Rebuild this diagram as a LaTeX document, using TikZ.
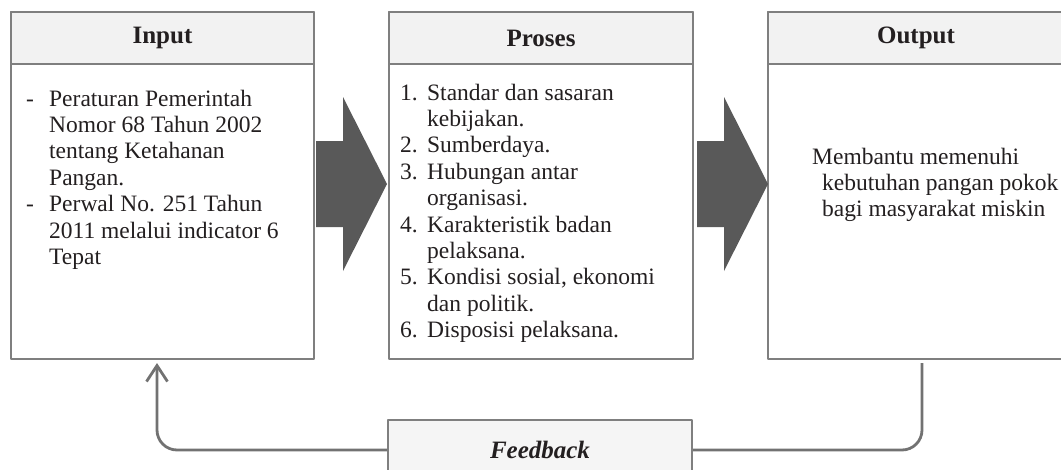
\documentclass[tikz,border=0pt]{standalone}
\usepackage{fontspec}
\setmainfont{Liberation Serif}
\usetikzlibrary{arrows.meta}
\definecolor{garis}{HTML}{7F7F7F}
\definecolor{latar}{HTML}{F2F2F2}
\definecolor{latarumpan}{HTML}{F5F5F5}
\definecolor{gelap}{HTML}{595959}
\definecolor{alur}{HTML}{727272}
\definecolor{tinta}{HTML}{231F20}
\begin{document}
\begin{tikzpicture}[x=1pt, y=-1pt, font=\fontsize{23.5}{26.4}\selectfont, line join=round, >={Straight Barb[length=16pt,width=21pt]}]
	\tikzset{kotak/.style={draw=garis, line width=2pt, anchor=north west, minimum width=#1, minimum height=347, inner sep=0},
		judul/.style={kotak=#1, fill=latar, minimum height=52, text=tinta, font=\fontsize{25}{26}\selectfont\bfseries},
		isi/.style={anchor=base west, inner sep=0, text=tinta},
		panah/.pic={
				\fill[gelap] (0,-43)--(27,-43)--(27,-87)--(71,0)--(27,87)--(27,43)--(0,43)--cycle;
		}}
	\useasboundingbox (0,0) rectangle (1061,469);
	\clip (0,0) rectangle (1061,469);
	\node[kotak=303] (input) at (10,11) {};
	\node[kotak=304] (proses) at (388,11) {};
	\node[kotak=296] (output) at (767,11) {};
	\node[judul=303] (judul-input) at (10,11) {Input};
	\node[judul=304] (judul-proses) at (388,11) {Proses};
	\node[judul=296] (judul-output) at (767,11) {Output};
	\path (316,184) pic{panah} (697,184) pic{panah};
	\node[isi] (isi-input) at (26,106) {\begin{tabular}[t]{@{}p{23pt}@{}l@{}}
			- & Peraturan Pemerintah\\
			& Nomor 68 Tahun 2002\\
			& tentang Ketahanan\\
			& Pangan.\\
			- & Perwal No. 251 Tahun\\
			& 2011 melalui indicator 6\\
			& Tepat
		\end{tabular}};
	\node[isi] (isi-proses) at (400,100) {\begin{tabular}[t]{@{}p{27pt}@{}l@{}}
			1. & Standar dan sasaran\\
			& kebijakan.\\
			2. & Sumberdaya.\\
			3. & Hubungan antar\\
			& organisasi.\\
			4. & Karakteristik badan\\
			& pelaksana.\\
			5. & Kondisi sosial, ekonomi\\
			& dan politik.\\
			6. & Disposisi pelaksana.
		\end{tabular}};
	\node[isi] (isi-output) at (812,164) {\begin{tabular}[t]{@{}l@{}}
			Membantu memenuhi\\
			\hspace*{10pt}kebutuhan pangan pokok\\
			\hspace*{10pt}bagi masyarakat miskin
		\end{tabular}};
	\node[draw=garis, fill=latarumpan, line width=2pt, minimum width=304, minimum height=60, inner sep=0, text=tinta, font=\fontsize{25}{26}\selectfont\bfseries\itshape] (umpan) at (540,450) {Feedback};
	\coordinate (keluar) at (922,363);
	\coordinate (masuk) at (157,363);
	\draw[alur, line width=2.8pt, rounded corners=20] (keluar) |- (umpan.east);
	\draw[alur, line width=2.8pt, rounded corners=20, ->] (umpan.west) -| (masuk);
\end{tikzpicture}
\end{document}
